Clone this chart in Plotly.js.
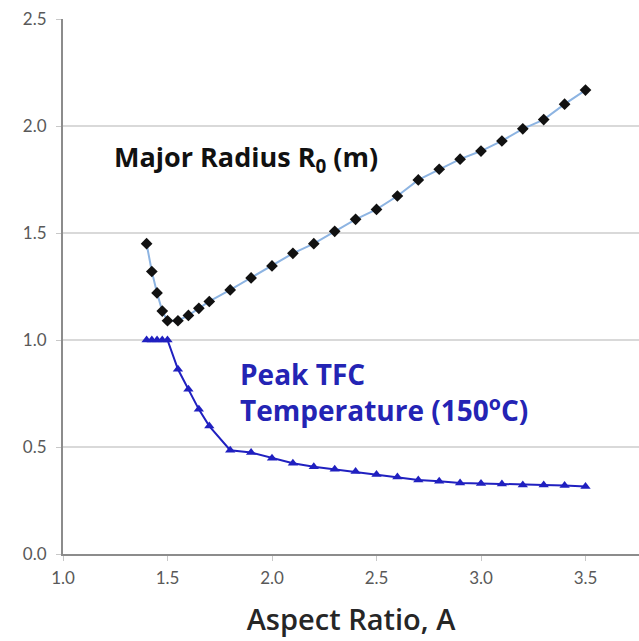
<!DOCTYPE html>
<html>
<head>
<meta charset="utf-8">
<script src="https://cdn.plot.ly/plotly-3.0.1.min.js"></script>
<style>html,body{margin:0;padding:0;background:#fff;}#chart{width:639px;height:641px;}</style>
</head>
<body>
<div id="chart"></div>
<script>
const aspectRatio = [1.4, 1.425, 1.45, 1.475, 1.5, 1.55, 1.6, 1.65, 1.7, 1.8, 1.9, 2.0, 2.1, 2.2, 2.3, 2.4, 2.5, 2.6, 2.7, 2.8, 2.9, 3.0, 3.1, 3.2, 3.3, 3.4, 3.5];
const majorRadius = [1.45, 1.32, 1.22, 1.135, 1.09, 1.09, 1.115, 1.148, 1.18, 1.234, 1.29, 1.346, 1.405, 1.45, 1.508, 1.564, 1.61, 1.673, 1.748, 1.798, 1.845, 1.883, 1.93, 1.987, 2.03, 2.102, 2.168];
const peakTemp = [1.0, 1.0, 1.0, 1.0, 1.0, 0.863, 0.77, 0.676, 0.598, 0.485, 0.474, 0.448, 0.424, 0.408, 0.396, 0.385, 0.372, 0.36, 0.346, 0.34, 0.332, 0.33, 0.327, 0.322, 0.322, 0.32, 0.316];
const xTicks = [1.0, 1.5, 2.0, 2.5, 3.0, 3.5];
const yTicks = [0.0, 0.5, 1.0, 1.5, 2.0, 2.5];

const tickFont = 'Lato, "Open Sans", sans-serif';
const textFont = '"Open Sans", Lato, sans-serif';

const traces = [
  {
    x: aspectRatio, y: majorRadius, type: 'scatter', mode: 'lines+markers',
    line: {color: '#8db4e2', width: 2},
    marker: {symbol: 'diamond', size: 9, color: '#111111'},
    showlegend: false
  },
  {
    x: aspectRatio, y: peakTemp, type: 'scatter', mode: 'lines+markers',
    line: {color: '#2020c0', width: 2},
    marker: {symbol: 'triangle-up', size: 9, color: '#2020c0'},
    showlegend: false
  }
];

const layout = {
  width: 639, height: 641,
  margin: {l: 63, r: 0, t: 19, b: 87},
  paper_bgcolor: '#ffffff', plot_bgcolor: '#ffffff',
  font: {family: tickFont, color: '#595959', size: 16},
  xaxis: {
    range: [1.0, 3.756], tickvals: xTicks, ticktext: xTicks.map(v => v.toFixed(1)),
    showgrid: false, zeroline: false,
    showline: true, linecolor: '#8c8c8c', linewidth: 2,
    ticks: 'outside', ticklen: 5, tickcolor: '#c8c8c8', tickwidth: 1,
    ticklabelstandoff: 3,
    tickfont: {family: tickFont, size: 17, color: '#595959'},
    title: {text: 'Aspect Ratio, A', font: {family: textFont, size: 29, color: '#262626', weight: 600}, standoff: 22}
  },
  yaxis: {
    range: [0, 2.5], tickvals: yTicks, ticktext: yTicks.map(v => v.toFixed(1)),
    showgrid: true, gridcolor: '#d9d9d9', gridwidth: 2, zeroline: false,
    showline: true, linecolor: '#8c8c8c', linewidth: 2,
    ticks: 'outside', ticklen: 5, tickcolor: '#c8c8c8', tickwidth: 1,
    ticklabelstandoff: 6,
    tickfont: {family: tickFont, size: 17, color: '#595959'}
  },
  annotations: [
    {x: 1.876, y: 1.85, xref: 'x', yref: 'y', text: '<b>Major Radius R<sub>0</sub> (m)</b>',
     showarrow: false, font: {family: textFont, size: 27, color: '#111111'}, xanchor: 'center', yanchor: 'middle'},
    {x: 1.835, y: 0.755, xref: 'x', yref: 'y', text: '<b>Peak TFC<br>Temperature (150<sup>o</sup>C)</b>',
     showarrow: false, align: 'left', font: {family: textFont, size: 28, color: '#2424b4'}, xanchor: 'left', yanchor: 'middle'}
  ]
};

Plotly.newPlot('chart', traces, layout, {displayModeBar: false, staticPlot: true});
</script>
</body>
</html>
